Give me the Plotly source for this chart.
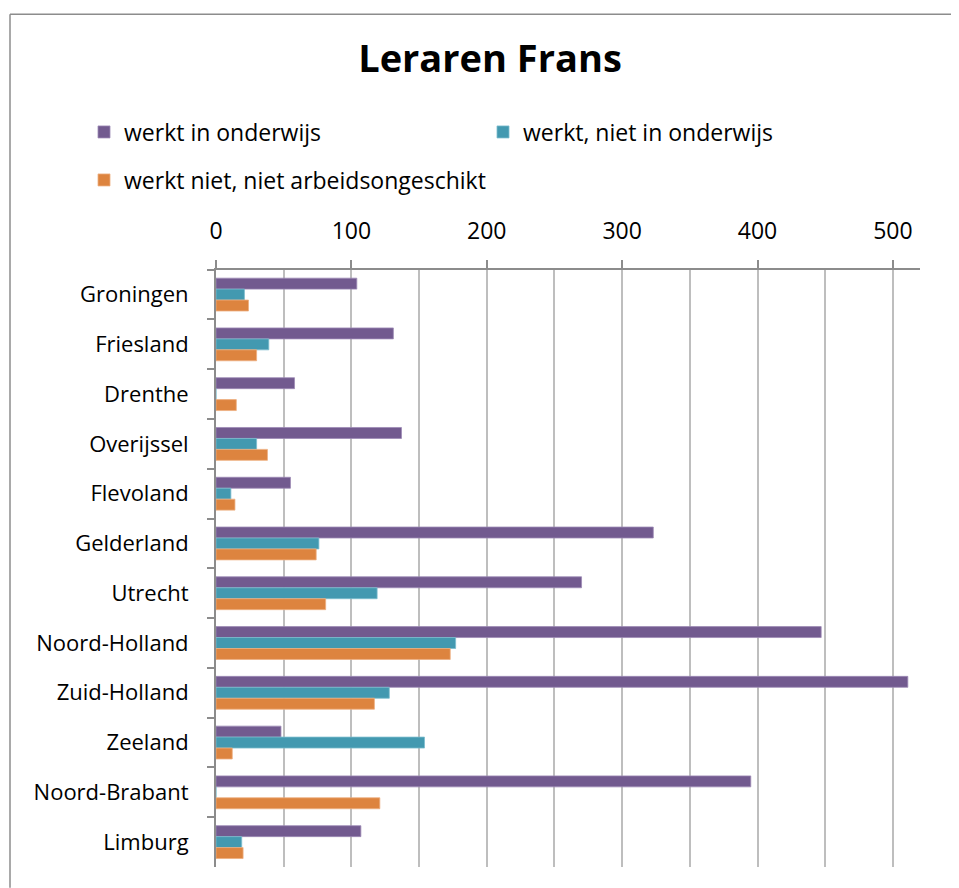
import plotly.graph_objects as go

provinces = ["Groningen", "Friesland", "Drenthe", "Overijssel", "Flevoland", "Gelderland",
             "Utrecht", "Noord-Holland", "Zuid-Holland", "Zeeland", "Noord-Brabant", "Limburg"]
werkt_in_onderwijs = [104, 131, 58, 137, 55, 323, 270, 447, 511, 48, 395, 107]
werkt_niet_in_onderwijs = [21, 39, 0, 30, 11, 76, 119, 177, 128, 154, 0, 19]
werkt_niet_arbeidsongeschikt = [24, 30, 15, 38, 14, 74, 81, 173, 117, 12, 121, 20]
series_names = ["werkt in onderwijs", "werkt, niet in onderwijs", "werkt niet, niet arbeidsongeschikt"]
x_ticks = [0, 100, 200, 300, 400, 500]

colors = ["#725A8F", "#4399B0", "#DD843F"]
edges = ["#9D8AB5", "#7CBCCE", "#EDAF80"]
FONT = "Open Sans"

W, H = 951, 880
L, R, T, B = 208, 39, 258, 21
PW, PH = W - L - R, H - T - B

fig = go.Figure()
for name, vals, c, e, lg in zip(series_names,
                               [werkt_in_onderwijs, werkt_niet_in_onderwijs, werkt_niet_arbeidsongeschikt],
                               colors, edges, ["legend", "legend2", "legend3"]):
    fig.add_trace(go.Bar(y=provinces, x=vals, name=name, orientation="h",
                         marker=dict(color=c, line=dict(color=e, width=0.8)),
                         legend=lg, showlegend=True))

leg_common = dict(orientation="h", xref="container", yref="container", xanchor="left",
                  yanchor="middle", font=dict(family=FONT, size=23, color="black"),
                  bgcolor="rgba(0,0,0,0)", visible=True)

fig.update_layout(
    width=W, height=H,
    showlegend=True,
    paper_bgcolor="white", plot_bgcolor="white",
    margin=dict(l=L, r=R, t=T, b=B),
    barmode="group", bargap=0.34, bargroupgap=0,
    font=dict(family=FONT, color="black", size=22),
    title=dict(text="<b>Leraren Frans</b>", x=482/W, xanchor="center", xref="container",
               y=1 - 51/H, yanchor="middle", yref="container",
               font=dict(family=FONT, size=38, color="black")),
    legend=dict(x=76/W, y=1 - 124/H, **leg_common),
    legend2=dict(x=475/W, y=1 - 124/H, **leg_common),
    legend3=dict(x=76/W, y=1 - 172/H, **leg_common),
    xaxis=dict(side="top", range=[0, 520], tickvals=x_ticks, ticktext=[str(v) for v in x_ticks],
               ticks="outside", ticklen=8, tickwidth=1.5, tickcolor="#8C8C8C",
               ticklabelstandoff=12,
               showgrid=True, gridcolor="#BEBEBE", gridwidth=1.5,
               minor=dict(dtick=50, tick0=0, showgrid=True, gridcolor="#BEBEBE", gridwidth=1.5, ticks=""),
               showline=True, linecolor="#8C8C8C", linewidth=2,
               zeroline=False, fixedrange=True,
               tickfont=dict(family=FONT, size=23, color="black")),
    yaxis=dict(autorange="reversed", type="category",
               ticks="outside", tickson="boundaries", ticklen=7, tickwidth=1.5, tickcolor="#8C8C8C",
               ticklabelstandoff=21,
               showline=True, linecolor="#8C8C8C", linewidth=2, showgrid=False,
               tickfont=dict(family=FONT, size=22, color="black")),
    shapes=[
        dict(type="line", xref="paper", yref="paper", x0=(2-L)/PW, x1=(2-L)/PW,
             y0=-B/PH, y1=(H-B-1)/PH, line=dict(color="#8C8C8C", width=1.5)),
        dict(type="line", xref="paper", yref="paper", x0=(2-L)/PW, x1=(W-L)/PW,
             y0=(H-B-1)/PH, y1=(H-B-1)/PH, line=dict(color="#8C8C8C", width=1.5)),
    ],
)

fig.write_html("out.html")
